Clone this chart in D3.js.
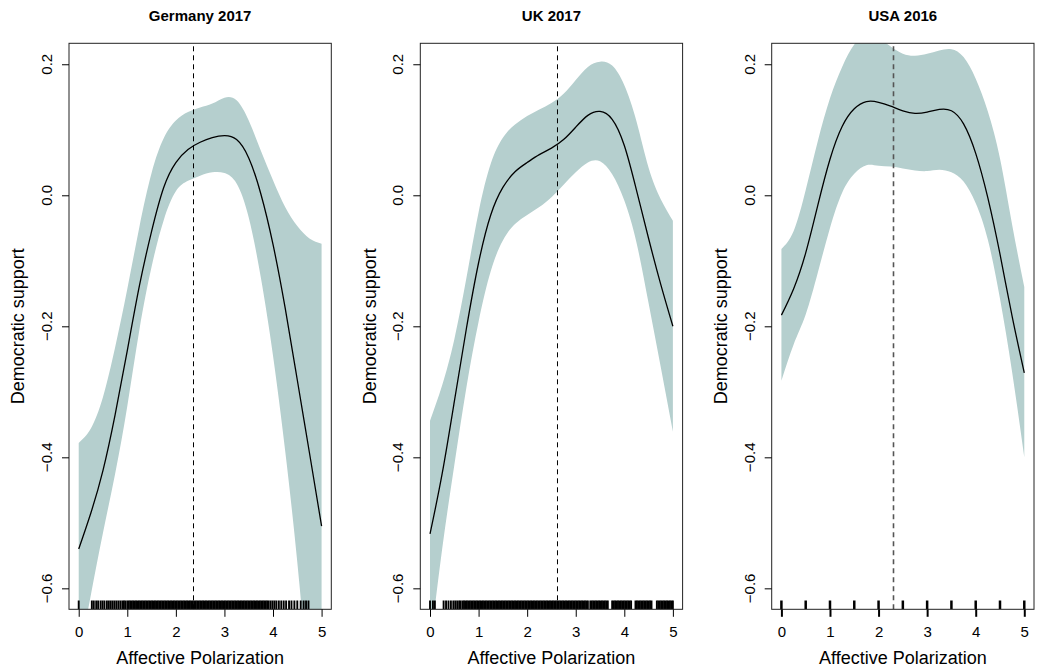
<!DOCTYPE html>
<html>
<head>
<meta charset="utf-8">
<script src="https://cdn.jsdelivr.net/npm/d3@7"></script>
<style>
  body { margin: 0; background: #fff; }
  svg text { font-family: "Liberation Sans", Arial, Helvetica, sans-serif; fill: #000; }
</style>
</head>
<body>
<div id="chart"></div>
<script>
// values (x grid shared by all three panels)
var xGrid = [0, 0.25, 0.5, 0.75, 1, 1.25, 1.5, 1.75, 2, 2.25, 2.5, 2.75, 3, 3.25, 3.5, 3.75, 4, 4.25, 4.5, 4.75, 5];

var germanyFit   = [-0.540, -0.485, -0.420, -0.335, -0.237, -0.138, -0.055, 0.012, 0.050, 0.070, 0.081, 0.088, 0.091, 0.085, 0.057, 0.002, -0.075, -0.172, -0.282, -0.393, -0.505];
var germanyUpper = [-0.378, -0.356, -0.308, -0.232, -0.143, -0.048, 0.034, 0.087, 0.114, 0.127, 0.134, 0.140, 0.149, 0.145, 0.114, 0.068, 0.023, -0.018, -0.047, -0.066, -0.074];
var germanyLower = [-0.710, -0.610, -0.515, -0.425, -0.322, -0.205, -0.109, -0.038, 0.006, 0.022, 0.030, 0.035, 0.034, 0.018, -0.034, -0.126, -0.245, -0.390, -0.560, -0.760, -0.950];

var ukFit   = [-0.517, -0.425, -0.315, -0.203, -0.103, -0.030, 0.012, 0.036, 0.050, 0.062, 0.072, 0.085, 0.104, 0.122, 0.128, 0.116, 0.076, 0.008, -0.066, -0.136, -0.200];
var ukUpper = [-0.344, -0.290, -0.220, -0.126, -0.026, 0.048, 0.088, 0.108, 0.121, 0.131, 0.141, 0.155, 0.176, 0.196, 0.204, 0.198, 0.168, 0.113, 0.042, -0.006, -0.039];
var ukLower = [-0.690, -0.540, -0.412, -0.293, -0.193, -0.116, -0.069, -0.044, -0.030, -0.018, -0.003, 0.016, 0.035, 0.050, 0.052, 0.032, -0.008, -0.072, -0.165, -0.262, -0.361];

var usaFit   = [-0.183, -0.143, -0.088, -0.015, 0.055, 0.105, 0.132, 0.143, 0.142, 0.136, 0.129, 0.125, 0.127, 0.131, 0.129, 0.109, 0.064, -0.004, -0.090, -0.185, -0.271];
var usaUpper = [-0.082, -0.055, 0.008, 0.083, 0.148, 0.196, 0.230, 0.245, 0.240, 0.227, 0.216, 0.213, 0.216, 0.221, 0.223, 0.211, 0.178, 0.128, 0.056, -0.045, -0.140];
var usaLower = [-0.283, -0.228, -0.182, -0.118, -0.050, 0.004, 0.033, 0.046, 0.045, 0.044, 0.041, 0.038, 0.037, 0.039, 0.035, 0.021, -0.012, -0.068, -0.158, -0.270, -0.400];

// observed values shown as rugs
var rugGermany = [0, 0.27, 0.31, 0.36, 0.4, 0.45, 0.49, 0.53, 0.58, 0.62, 0.66, 0.7, 0.74, 0.78, 0.82, 0.86, 0.9, 0.93, 0.96,
  1, 1.03, 1.06, 1.09, 1.12, 1.15, 1.18, 1.21, 1.24, 1.27, 1.3, 1.33, 1.36, 1.39, 1.42, 1.45, 1.48, 1.51, 1.54, 1.57, 1.6,
  1.63, 1.66, 1.69, 1.72, 1.75, 1.78, 1.81, 1.84, 1.87, 1.9, 1.93, 1.96, 1.99, 2.02, 2.05, 2.08, 2.11, 2.14, 2.17, 2.2,
  2.23, 2.26, 2.29, 2.32, 2.35, 2.38, 2.41, 2.44, 2.47, 2.5, 2.53, 2.56, 2.59, 2.62, 2.65, 2.68, 2.71, 2.74, 2.77, 2.8,
  2.83, 2.86, 2.89, 2.92, 2.95, 2.98, 3.01, 3.04, 3.07, 3.1, 3.13, 3.16, 3.19, 3.22, 3.25, 3.28, 3.31, 3.34, 3.37, 3.4,
  3.43, 3.46, 3.49, 3.52, 3.55, 3.58, 3.61, 3.64, 3.67, 3.7, 3.73, 3.76, 3.79, 3.82, 3.85, 3.88, 3.91, 3.95, 3.99, 4.03,
  4.07, 4.12, 4.17, 4.22, 4.27, 4.33, 4.38, 4.44, 4.5, 4.57, 4.63, 4.68, 4.73];
var rugUK = [0, 0.06, 0.1, 0.28, 0.33, 0.38, 0.43, 0.48, 0.52, 0.56, 0.6, 0.63, 0.67, 0.7, 0.73, 0.76, 0.79, 0.82, 0.85,
  0.88, 0.91, 0.94, 0.97, 1, 1.03, 1.06, 1.09, 1.12, 1.15, 1.18, 1.21, 1.24, 1.27, 1.3, 1.33, 1.36, 1.39, 1.42, 1.45, 1.48,
  1.51, 1.54, 1.57, 1.6, 1.63, 1.66, 1.69, 1.72, 1.75, 1.78, 1.81, 1.84, 1.87, 1.9, 1.93, 1.96, 1.99, 2.02, 2.05, 2.08,
  2.11, 2.14, 2.17, 2.2, 2.23, 2.26, 2.29, 2.32, 2.35, 2.38, 2.41, 2.44, 2.47, 2.5, 2.53, 2.56, 2.59, 2.62, 2.65, 2.68,
  2.71, 2.74, 2.77, 2.8, 2.83, 2.86, 2.89, 2.92, 2.95, 2.98, 3.01, 3.04, 3.07, 3.1, 3.13, 3.16, 3.19, 3.22, 3.25,
  3.3, 3.33, 3.36, 3.39, 3.42, 3.45, 3.48, 3.51, 3.54, 3.57, 3.6, 3.63, 3.66,
  3.75, 3.78, 3.81, 3.84, 3.87, 3.9, 3.93, 3.96, 3.99, 4.02, 4.05, 4.08, 4.11, 4.14,
  4.23, 4.26, 4.29, 4.32, 4.35, 4.38, 4.41, 4.44, 4.47, 4.5, 4.53, 4.56,
  4.67, 4.7, 4.73, 4.76, 4.79, 4.82, 4.85, 4.88, 4.91, 4.94, 4.97, 5];
var rugUSA = [0, 0.5, 1, 1.5, 2, 2.5, 3, 3.5, 4, 4.5, 5];

var titles = ["Germany 2017", "UK 2017", "USA 2016"];
var meanLines = [2.35, 2.62, 2.29];
var xTicks = [0, 1, 2, 3, 4, 5];
var yTicks = [-0.6, -0.4, -0.2, 0.0, 0.2];

var panels = [
  { title: titles[0], fit: germanyFit, lo: germanyLower, hi: germanyUpper, rug: rugGermany, mean: meanLines[0], rugW: 1.9, meanCol: "#000", meanW: 1 },
  { title: titles[1], fit: ukFit, lo: ukLower, hi: ukUpper, rug: rugUK, mean: meanLines[1], rugW: 1.9, meanCol: "#000", meanW: 1 },
  { title: titles[2], fit: usaFit, lo: usaLower, hi: usaUpper, rug: rugUSA, mean: meanLines[2], rugW: 2.5, meanCol: "#555", meanW: 1.6 }
];

// 1: dimensions
var W = 1037, H = 670;
var lefts = [69, 420.3, 771.7];
var plotTop = 43.3, pw = 262.3, ph = 566;

var svg = d3.select("#chart").append("svg")
    .attr("width", W)
    .attr("height", H);

// 2: scales (same for each panel)
var x = d3.scaleLinear().domain([-0.2, 5.2]).range([0, pw]);
var y = d3.scaleLinear().domain([-0.632, 0.232]).range([ph, 0]);

var band = d3.area()
    .x(function(d) { return x(d.x); })
    .y0(function(d) { return y(d.lo); })
    .y1(function(d) { return y(d.hi); })
    .curve(d3.curveNatural);

var line = d3.line()
    .x(function(d) { return x(d.x); })
    .y(function(d) { return y(d.fit); })
    .curve(d3.curveNatural);

panels.forEach(function(p, i) {
  var rows = xGrid.map(function(v, k) {
    return { x: v, fit: p.fit[k], lo: p.lo[k], hi: p.hi[k] };
  });

  var g = svg.append("g")
      .attr("transform", "translate(" + lefts[i] + "," + plotTop + ")");

  g.append("clipPath").attr("id", "clip" + i)
    .append("rect")
      .attr("width", pw)
      .attr("height", ph);

  var inner = g.append("g").attr("clip-path", "url(#clip" + i + ")");

  // 3: confidence band + fitted line
  inner.append("path")
      .datum(rows)
      .attr("d", band)
      .style("fill", "#b5cfce");

  inner.append("path")
      .datum(rows)
      .attr("d", line)
      .style("fill", "none")
      .style("stroke", "#000")
      .style("stroke-width", 1.3);

  // 4: rug
  inner.selectAll("line.rug")
    .data(p.rug)
    .enter().append("line")
      .attr("class", "rug")
      .attr("x1", function(d) { return x(d); })
      .attr("x2", function(d) { return x(d); })
      .attr("y1", ph - 8.7)
      .attr("y2", ph)
      .style("stroke", "#000")
      .style("stroke-width", p.rugW);

  // 5: mean line (snapped to the pixel grid so it stays crisp)
  var mx = Math.round(lefts[i] + x(p.mean)) + 0.5 - lefts[i];
  inner.append("line")
      .attr("x1", mx)
      .attr("x2", mx)
      .attr("y1", 3)
      .attr("y2", ph)
      .style("stroke", p.meanCol)
      .style("stroke-width", p.meanW)
      .style("stroke-dasharray", "5,4");

  // box
  g.append("rect")
      .attr("width", pw)
      .attr("height", ph)
      .style("fill", "none")
      .style("stroke", "#222")
      .style("stroke-width", 1);

  // 6: axes
  var xa = g.append("g")
      .attr("transform", "translate(0," + ph + ")")
      .call(d3.axisBottom(x).tickValues(xTicks).tickSize(7.5).tickPadding(9.5).tickFormat(d3.format("d")));
  xa.select(".domain").remove();
  xa.selectAll("line").style("stroke", "#000").style("stroke-width", i == 2 ? 2 : 1);
  xa.selectAll("text").style("font-size", "15px").style("font-family", "Liberation Sans, Arial, sans-serif");

  var ya = g.append("g")
      .call(d3.axisLeft(y).tickValues(yTicks).tickSize(7).tickFormat(""));
  ya.select(".domain").remove();
  ya.selectAll("line").style("stroke", "#000");

  g.selectAll("text.ylab")
    .data(yTicks)
    .enter().append("text")
      .attr("class", "ylab")
      .attr("transform", function(d) { return "translate(-22.3," + y(d) + ") rotate(-90)"; })
      .attr("dy", "0.35em")
      .attr("text-anchor", "middle")
      .style("font-size", "15px")
      .text(d3.format(".1f"));

  // 7: titles
  g.append("text")
      .attr("x", pw / 2)
      .attr("y", -22.8)
      .attr("text-anchor", "middle")
      .style("font-size", "15px")
      .style("font-weight", "bold")
      .text(p.title);

  g.append("text")
      .attr("x", pw / 2)
      .attr("y", 620.7)
      .attr("text-anchor", "middle")
      .style("font-size", "18px")
      .text("Affective Polarization");

  g.append("text")
      .attr("transform", "translate(-51," + ph / 2 + ") rotate(-90)")
      .attr("dy", "0.35em")
      .attr("text-anchor", "middle")
      .style("font-size", "18px")
      .text("Democratic support");
});
</script>
</body>
</html>
